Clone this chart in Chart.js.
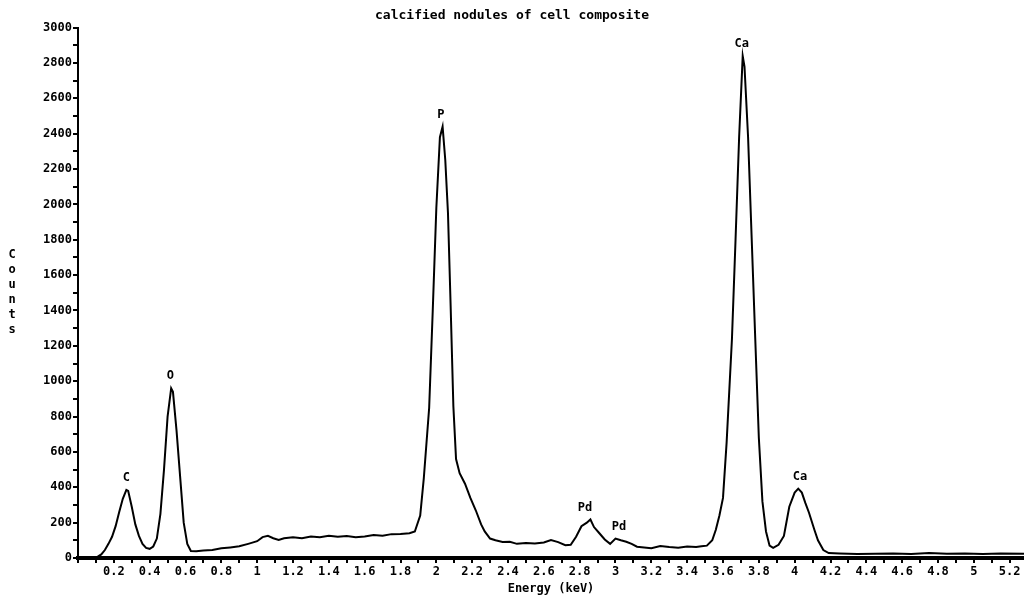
<!DOCTYPE html>
<html>
<head>
<meta charset="utf-8">
<script src="https://cdn.jsdelivr.net/npm/chart.js@4.4.1/dist/chart.umd.min.js"></script>
<style>
  html, body { margin: 0; padding: 0; background: #fff; }
  #wrap { width: 1024px; height: 596px; position: relative; }
</style>
</head>
<body>
<div id="wrap"><canvas id="edsChart"></canvas></div>
<script>
// EDS spectrum: energy (keV) vs counts
var energy = [0.09, 0.11, 0.13, 0.15, 0.17, 0.19, 0.21, 0.23, 0.25, 0.27, 0.28, 0.30, 0.32, 0.34, 0.36, 0.38, 0.40,
  0.42, 0.44, 0.46, 0.48, 0.50, 0.52, 0.53, 0.55, 0.57, 0.59, 0.61, 0.63, 0.66, 0.70, 0.75, 0.80, 0.85, 0.90,
  0.95, 1.00, 1.03, 1.06, 1.09, 1.12, 1.15, 1.20, 1.25, 1.30, 1.35, 1.40, 1.45, 1.50, 1.55, 1.60, 1.65, 1.70,
  1.75, 1.80, 1.85, 1.88, 1.91, 1.93, 1.96, 1.98, 2.00, 2.02, 2.035, 2.05, 2.065, 2.08, 2.095, 2.11, 2.13,
  2.16, 2.19, 2.22, 2.25, 2.27, 2.30, 2.33, 2.37, 2.41, 2.45, 2.50, 2.55, 2.60, 2.64, 2.68, 2.72, 2.75, 2.78,
  2.81, 2.84, 2.86, 2.88, 2.91, 2.94, 2.97, 3.00, 3.03, 3.06, 3.09, 3.12, 3.16, 3.20, 3.25, 3.30, 3.35, 3.40,
  3.45, 3.48, 3.51, 3.54, 3.56, 3.58, 3.60, 3.62, 3.65, 3.67, 3.69, 3.71, 3.72, 3.74, 3.76, 3.78, 3.80, 3.82,
  3.84, 3.86, 3.88, 3.91, 3.94, 3.97, 4.00, 4.02, 4.04, 4.06, 4.08, 4.11, 4.13, 4.16, 4.19, 4.25, 4.35, 4.45,
  4.55, 4.65, 4.75, 4.85, 4.95, 5.05, 5.15, 5.28];
var counts = [0, 8, 20, 45, 80, 120, 180, 260, 335, 385, 380, 290, 190, 125, 80, 57, 52,
  65, 110, 250, 500, 800, 960, 940, 720, 460, 200, 80, 40, 38, 42, 45, 55, 60, 66,
  80, 95, 118, 125, 112, 102, 112, 118, 112, 122, 118, 126, 120, 124, 118, 122, 130, 126,
  135, 136, 140, 150, 240, 450, 850, 1400, 1980, 2380, 2440, 2250, 1950, 1420, 860, 560, 480,
  420, 340, 270, 190, 150, 110, 100, 90, 92, 80, 85, 82, 88, 102, 90, 72, 75, 120,
  180, 200, 218, 175, 140, 105, 80, 110, 100, 92, 80, 64, 60, 55, 68, 62, 58, 65,
  62, 66, 70, 100, 160, 240, 340, 650, 1240, 1800, 2380, 2840, 2780, 2380, 1810, 1240, 680, 320,
  150, 70, 57, 75, 125, 290, 370, 392, 370, 310, 256, 160, 100, 45, 28, 25, 22, 24,
  26, 22, 28, 24, 26, 22, 25, 24];

// element markers
var peakNames = ['C', 'O', 'P', 'Pd', 'Pd', 'Ca', 'Ca'];
var peakEnergy = [0.27, 0.515, 2.025, 2.83, 3.02, 3.705, 4.03];
var peakCounts = [385, 960, 2440, 218, 110, 2840, 392];

var yLabel = 'Counts';
var monoFont = '"DejaVu Sans Mono", monospace';

var points = energy.map(function (e, i) { return { x: e, y: counts[i] }; });

var peakLabels = {
  id: 'peakLabels',
  afterDatasetsDraw: function (chart) {
    var ctx = chart.ctx;
    var xs = chart.scales.x, ys = chart.scales.y;
    ctx.save();
    ctx.fillStyle = '#000';
    ctx.font = 'bold 12px ' + monoFont;
    ctx.textAlign = 'center';
    ctx.textBaseline = 'middle';
    for (var i = 0; i < peakNames.length; i++) {
      ctx.fillText(peakNames[i], xs.getPixelForValue(peakEnergy[i]), ys.getPixelForValue(peakCounts[i]) - 12);
    }
    // stacked y-axis title
    for (var j = 0; j < yLabel.length; j++) {
      ctx.fillText(yLabel[j], 12, 255 + j * 15);
    }
    ctx.restore();
  }
};

var ctx = document.getElementById('edsChart').getContext('2d');
new Chart(ctx, {
  type: 'line',
  data: {
    datasets: [{
      data: points,
      borderColor: '#000',
      borderWidth: 2,
      pointRadius: 0,
      tension: 0,
      fill: false
    }]
  },
  options: {
    responsive: true,
    maintainAspectRatio: false,
    animation: false,
    layout: { padding: 0 },
    plugins: {
      legend: { display: false },
      tooltip: { enabled: false },
      title: {
        display: true,
        text: 'calcified nodules of cell composite',
        color: '#000',
        font: { family: monoFont, size: 13, weight: 'bold', lineHeight: 1.2 },
        padding: { top: 8, bottom: 4 }
      }
    },
    scales: {
      x: {
        type: 'linear',
        min: 0,
        max: 5.28,
        afterFit: function (scale) { scale.height = 38; },
        border: { color: '#000', width: 4 },
        grid: { drawOnChartArea: false, drawTicks: true, tickLength: 5, color: '#000', lineWidth: 2 },
        ticks: {
          stepSize: 0.1,
          includeBounds: false,
          autoSkip: false,
          maxRotation: 0,
          padding: 2,
          color: '#000',
          font: { family: monoFont, size: 12, weight: 'bold' },
          callback: function (v) {
            var t = Math.round(v * 10);
            if (t === 0 || t % 2 !== 0) return '';
            return String(t / 10);
          }
        },
        title: {
          display: true,
          text: 'Energy (keV)',
          color: '#000',
          font: { family: monoFont, size: 12, weight: 'bold' },
          padding: 0
        }
      },
      y: {
        min: 0,
        max: 3000,
        afterFit: function (scale) { scale.width = 78; },
        border: { color: '#000', width: 2 },
        grid: { drawOnChartArea: false, drawTicks: true, tickLength: 5, color: '#000', lineWidth: 2 },
        ticks: {
          stepSize: 100,
          autoSkip: false,
          padding: 1,
          color: '#000',
          font: { family: monoFont, size: 12, weight: 'bold' },
          callback: function (v) { return v % 200 === 0 ? String(v) : ''; }
        }
      }
    }
  },
  plugins: [peakLabels]
});
</script>
</body>
</html>
